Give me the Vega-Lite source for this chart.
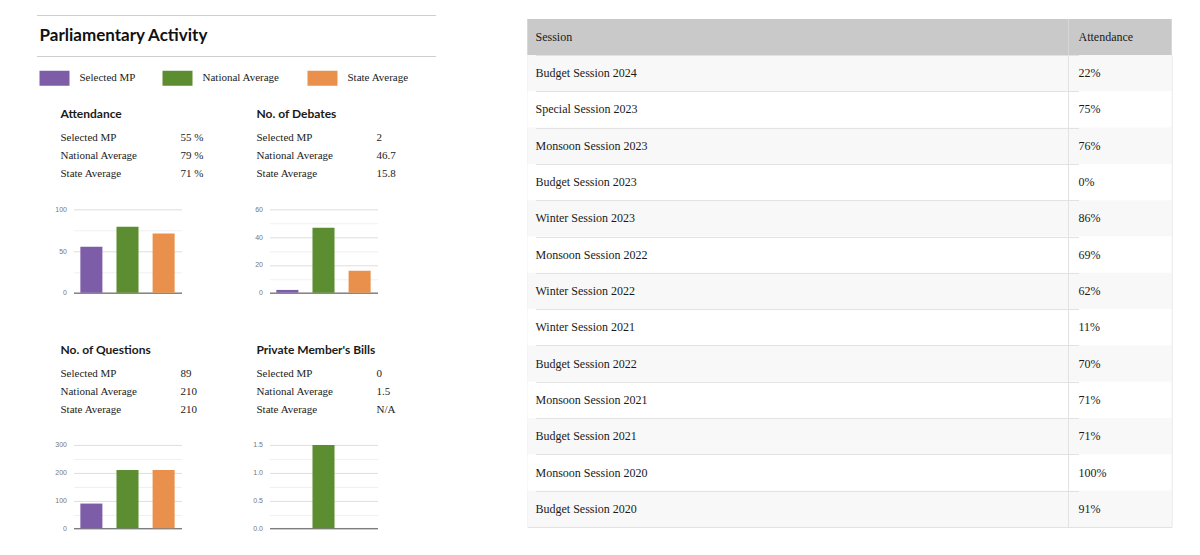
{
  "$schema": "https://vega.github.io/schema/vega-lite/v6.json",
  "padding": {"left": 36.5, "top": 15, "right": 5, "bottom": 5},
  "spacing": 91,
  "config": {
    "view": {"stroke": null},
    "font": "Liberation Sans",
    "axis": {"labelFont": "Liberation Sans", "labelFontSize": 7, "labelColor": "#777777"}
  },
  "datasets": {
    "metrics": [
      {"metric": "Attendance", "group": "Selected MP", "value": 55, "display": "55 %"},
      {"metric": "Attendance", "group": "National Average", "value": 79, "display": "79 %"},
      {"metric": "Attendance", "group": "State Average", "value": 71, "display": "71 %"},
      {"metric": "Debates", "group": "Selected MP", "value": 2, "display": "2"},
      {"metric": "Debates", "group": "National Average", "value": 46.7, "display": "46.7"},
      {"metric": "Debates", "group": "State Average", "value": 15.8, "display": "15.8"},
      {"metric": "Questions", "group": "Selected MP", "value": 89, "display": "89"},
      {"metric": "Questions", "group": "National Average", "value": 210, "display": "210"},
      {"metric": "Questions", "group": "State Average", "value": 210, "display": "210"},
      {"metric": "Bills", "group": "Selected MP", "value": 0, "display": "0"},
      {"metric": "Bills", "group": "National Average", "value": 1.5, "display": "1.5"},
      {"metric": "Bills", "group": "State Average", "value": null, "display": "N/A"}
    ],
    "sessions": [
      {"session": "Budget Session 2024", "attendance": 0.22},
      {"session": "Special Session 2023", "attendance": 0.75},
      {"session": "Monsoon Session 2023", "attendance": 0.76},
      {"session": "Budget Session 2023", "attendance": 0.0},
      {"session": "Winter Session 2023", "attendance": 0.86},
      {"session": "Monsoon Session 2022", "attendance": 0.69},
      {"session": "Winter Session 2022", "attendance": 0.62},
      {"session": "Winter Session 2021", "attendance": 0.11},
      {"session": "Budget Session 2022", "attendance": 0.70},
      {"session": "Monsoon Session 2021", "attendance": 0.71},
      {"session": "Budget Session 2021", "attendance": 0.71},
      {"session": "Monsoon Session 2020", "attendance": 1.0},
      {"session": "Budget Session 2020", "attendance": 0.91}
    ]
  },
  "hconcat": [
    {
      "vconcat": [
        {
          "width": 399,
          "height": 41,
          "title": {"text": "Parliamentary Activity", "anchor": "start", "frame": "group", "orient": "top", "offset": -38, "baseline": "middle", "dx": 3, "font": "Lato", "fontSize": 17, "fontWeight": "bold", "color": "#111111"},
          "data": {"name": "metrics"},
          "transform": [{"filter": {"field": "metric", "equal": "Attendance"}}],
          "mark": {"type": "square", "opacity": 0},
          "encoding": {
            "y": {"datum": 0.5, "type": "quantitative", "scale": {"domain": [0, 1], "nice": false},
              "axis": {"values": [0, 1], "grid": true, "gridColor": "#cfcfcf", "gridWidth": 1, "labels": false, "ticks": false, "domain": false, "title": null}},
            "color": {
              "field": "group", "type": "nominal",
              "scale": {"domain": ["Selected MP", "National Average", "State Average"], "range": ["#7d5da8", "#5c8d30", "#e9904d"]},
              "legend": {"orient": "none", "legendX": 3, "legendY": 48, "direction": "horizontal", "title": null,
                "symbolType": "M-1,-0.5H1V0.5H-1Z", "symbolSize": 900, "symbolStrokeWidth": 0, "symbolOpacity": 1,
                "labelFont": "Liberation Serif", "labelFontSize": 11, "labelColor": "#222222", "labelOffset": 10, "columnPadding": 27}
            }
          }
        },
        {
          "columns": 2,
          "bounds": "flush",
          "spacing": {"row": 26.3, "column": 0},
          "concat": [
            {
              "width": 196, "height": 99,
              "title": {"text": "Attendance", "anchor": "start", "frame": "group", "offset": -42, "baseline": "middle", "dx": 24, "font": "Lato", "fontSize": 12, "fontWeight": "bold", "color": "#1a1a1a"},
              "data": {"name": "metrics"},
              "transform": [{"filter": {"field": "metric", "equal": "Attendance"}}],
              "layer": [
                {"mark": {"type": "text", "align": "left", "baseline": "middle", "font": "Liberation Serif", "fontSize": 11, "color": "#222222"},
                 "encoding": {"x": {"datum": "name", "type": "nominal", "scale": {"type": "point", "domain": ["name", "value"], "range": [24, 144], "padding": 0}, "axis": null},
                   "y": {"field": "group", "type": "nominal", "scale": {"type": "band", "domain": ["Selected MP", "National Average", "State Average"], "range": [45, 99], "paddingInner": 0, "paddingOuter": 0}, "axis": null},
                   "text": {"field": "group"}}},
                {"mark": {"type": "text", "align": "left", "baseline": "middle", "font": "Liberation Serif", "fontSize": 11, "color": "#222222"},
                 "encoding": {"x": {"datum": "value", "type": "nominal", "scale": {"type": "point", "domain": ["name", "value"], "range": [24, 144], "padding": 0}, "axis": null},
                   "y": {"field": "group", "type": "nominal", "scale": {"type": "band", "domain": ["Selected MP", "National Average", "State Average"], "range": [45, 99], "paddingInner": 0, "paddingOuter": 0}, "axis": null},
                   "text": {"field": "display"}}}
              ]
            },
            {
              "width": 196, "height": 99,
              "title": {"text": "No. of Debates", "anchor": "start", "frame": "group", "offset": -42, "baseline": "middle", "dx": 24, "font": "Lato", "fontSize": 12, "fontWeight": "bold", "color": "#1a1a1a"},
              "data": {"name": "metrics"},
              "transform": [{"filter": {"field": "metric", "equal": "Debates"}}],
              "layer": [
                {"mark": {"type": "text", "align": "left", "baseline": "middle", "font": "Liberation Serif", "fontSize": 11, "color": "#222222"},
                 "encoding": {"x": {"datum": "name", "type": "nominal", "scale": {"type": "point", "domain": ["name", "value"], "range": [24, 144], "padding": 0}, "axis": null},
                   "y": {"field": "group", "type": "nominal", "scale": {"type": "band", "domain": ["Selected MP", "National Average", "State Average"], "range": [45, 99], "paddingInner": 0, "paddingOuter": 0}, "axis": null},
                   "text": {"field": "group"}}},
                {"mark": {"type": "text", "align": "left", "baseline": "middle", "font": "Liberation Serif", "fontSize": 11, "color": "#222222"},
                 "encoding": {"x": {"datum": "value", "type": "nominal", "scale": {"type": "point", "domain": ["name", "value"], "range": [24, 144], "padding": 0}, "axis": null},
                   "y": {"field": "group", "type": "nominal", "scale": {"type": "band", "domain": ["Selected MP", "National Average", "State Average"], "range": [45, 99], "paddingInner": 0, "paddingOuter": 0}, "axis": null},
                   "text": {"field": "display"}}}
              ]
            },
            {
              "width": 196, "height": 83.4,
              "data": {"name": "metrics"},
              "transform": [{"filter": {"field": "metric", "equal": "Attendance"}}],
              "mark": {"type": "bar"},
              "encoding": {
                "x": {"field": "group", "type": "nominal", "scale": {"domain": ["Selected MP", "National Average", "State Average"], "range": [37, 145], "paddingInner": 0.39, "paddingOuter": 0.19},
                  "axis": {"title": null, "labels": false, "ticks": false, "domain": true, "domainColor": "#555555", "grid": false}},
                "y": {"field": "value", "type": "quantitative", "scale": {"domain": [0, 100], "nice": false},
                  "axis": {"title": null, "values": [0, 25, 50, 75, 100], "offset": -37, "domain": false, "ticks": false, "labelPadding": 7, "grid": true,
                    "gridColor": {"condition": {"test": "datum.value % 50 === 0", "value": "#dedede"}, "value": "#f0f0f0"},
                    "labelExpr": "datum.value % 50 === 0 ? datum.label : ''"}},
                "color": {"field": "group", "type": "nominal", "scale": {"domain": ["Selected MP", "National Average", "State Average"], "range": ["#7d5da8", "#5c8d30", "#e9904d"]}, "legend": null}
              }
            },
            {
              "width": 196, "height": 83.4,
              "data": {"name": "metrics"},
              "transform": [{"filter": {"field": "metric", "equal": "Debates"}}],
              "mark": {"type": "bar"},
              "encoding": {
                "x": {"field": "group", "type": "nominal", "scale": {"domain": ["Selected MP", "National Average", "State Average"], "range": [37, 145], "paddingInner": 0.39, "paddingOuter": 0.19},
                  "axis": {"title": null, "labels": false, "ticks": false, "domain": true, "domainColor": "#555555", "grid": false}},
                "y": {"field": "value", "type": "quantitative", "scale": {"domain": [0, 60], "nice": false},
                  "axis": {"title": null, "values": [0, 10, 20, 30, 40, 50, 60], "offset": -37, "domain": false, "ticks": false, "labelPadding": 7, "grid": true,
                    "gridColor": {"condition": {"test": "datum.value % 20 === 0", "value": "#dedede"}, "value": "#f0f0f0"},
                    "labelExpr": "datum.value % 20 === 0 ? datum.label : ''"}},
                "color": {"field": "group", "type": "nominal", "scale": {"domain": ["Selected MP", "National Average", "State Average"], "range": ["#7d5da8", "#5c8d30", "#e9904d"]}, "legend": null}
              }
            },
            {
              "width": 196, "height": 99,
              "title": {"text": "No. of Questions", "anchor": "start", "frame": "group", "offset": -42, "baseline": "middle", "dx": 24, "font": "Lato", "fontSize": 12, "fontWeight": "bold", "color": "#1a1a1a"},
              "data": {"name": "metrics"},
              "transform": [{"filter": {"field": "metric", "equal": "Questions"}}],
              "layer": [
                {"mark": {"type": "text", "align": "left", "baseline": "middle", "font": "Liberation Serif", "fontSize": 11, "color": "#222222"},
                 "encoding": {"x": {"datum": "name", "type": "nominal", "scale": {"type": "point", "domain": ["name", "value"], "range": [24, 144], "padding": 0}, "axis": null},
                   "y": {"field": "group", "type": "nominal", "scale": {"type": "band", "domain": ["Selected MP", "National Average", "State Average"], "range": [45, 99], "paddingInner": 0, "paddingOuter": 0}, "axis": null},
                   "text": {"field": "group"}}},
                {"mark": {"type": "text", "align": "left", "baseline": "middle", "font": "Liberation Serif", "fontSize": 11, "color": "#222222"},
                 "encoding": {"x": {"datum": "value", "type": "nominal", "scale": {"type": "point", "domain": ["name", "value"], "range": [24, 144], "padding": 0}, "axis": null},
                   "y": {"field": "group", "type": "nominal", "scale": {"type": "band", "domain": ["Selected MP", "National Average", "State Average"], "range": [45, 99], "paddingInner": 0, "paddingOuter": 0}, "axis": null},
                   "text": {"field": "display"}}}
              ]
            },
            {
              "width": 196, "height": 99,
              "title": {"text": "Private Member's Bills", "anchor": "start", "frame": "group", "offset": -42, "baseline": "middle", "dx": 24, "font": "Lato", "fontSize": 12, "fontWeight": "bold", "color": "#1a1a1a"},
              "data": {"name": "metrics"},
              "transform": [{"filter": {"field": "metric", "equal": "Bills"}}],
              "layer": [
                {"mark": {"type": "text", "align": "left", "baseline": "middle", "font": "Liberation Serif", "fontSize": 11, "color": "#222222"},
                 "encoding": {"x": {"datum": "name", "type": "nominal", "scale": {"type": "point", "domain": ["name", "value"], "range": [24, 144], "padding": 0}, "axis": null},
                   "y": {"field": "group", "type": "nominal", "scale": {"type": "band", "domain": ["Selected MP", "National Average", "State Average"], "range": [45, 99], "paddingInner": 0, "paddingOuter": 0}, "axis": null},
                   "text": {"field": "group"}}},
                {"mark": {"type": "text", "align": "left", "baseline": "middle", "font": "Liberation Serif", "fontSize": 11, "color": "#222222"},
                 "encoding": {"x": {"datum": "value", "type": "nominal", "scale": {"type": "point", "domain": ["name", "value"], "range": [24, 144], "padding": 0}, "axis": null},
                   "y": {"field": "group", "type": "nominal", "scale": {"type": "band", "domain": ["Selected MP", "National Average", "State Average"], "range": [45, 99], "paddingInner": 0, "paddingOuter": 0}, "axis": null},
                   "text": {"field": "display"}}}
              ]
            },
            {
              "width": 196, "height": 83.4,
              "data": {"name": "metrics"},
              "transform": [{"filter": {"field": "metric", "equal": "Questions"}}],
              "mark": {"type": "bar"},
              "encoding": {
                "x": {"field": "group", "type": "nominal", "scale": {"domain": ["Selected MP", "National Average", "State Average"], "range": [37, 145], "paddingInner": 0.39, "paddingOuter": 0.19},
                  "axis": {"title": null, "labels": false, "ticks": false, "domain": true, "domainColor": "#555555", "grid": false}},
                "y": {"field": "value", "type": "quantitative", "scale": {"domain": [0, 300], "nice": false},
                  "axis": {"title": null, "values": [0, 50, 100, 150, 200, 250, 300], "offset": -37, "domain": false, "ticks": false, "labelPadding": 7, "grid": true,
                    "gridColor": {"condition": {"test": "datum.value % 100 === 0", "value": "#dedede"}, "value": "#f0f0f0"},
                    "labelExpr": "datum.value % 100 === 0 ? datum.label : ''"}},
                "color": {"field": "group", "type": "nominal", "scale": {"domain": ["Selected MP", "National Average", "State Average"], "range": ["#7d5da8", "#5c8d30", "#e9904d"]}, "legend": null}
              }
            },
            {
              "width": 196, "height": 83.4,
              "data": {"name": "metrics"},
              "transform": [{"filter": {"field": "metric", "equal": "Bills"}}],
              "mark": {"type": "bar"},
              "encoding": {
                "x": {"field": "group", "type": "nominal", "scale": {"domain": ["Selected MP", "National Average", "State Average"], "range": [37, 145], "paddingInner": 0.39, "paddingOuter": 0.19},
                  "axis": {"title": null, "labels": false, "ticks": false, "domain": true, "domainColor": "#555555", "grid": false}},
                "y": {"field": "value", "type": "quantitative", "scale": {"domain": [0, 1.5], "nice": false},
                  "axis": {"title": null, "values": [0, 0.25, 0.5, 0.75, 1, 1.25, 1.5], "format": ".1f", "offset": -37, "domain": false, "ticks": false, "labelPadding": 7, "grid": true,
                    "gridColor": {"condition": {"test": "datum.value % 0.5 === 0", "value": "#dedede"}, "value": "#f0f0f0"},
                    "labelExpr": "datum.value % 0.5 === 0 ? datum.label : ''"}},
                "color": {"field": "group", "type": "nominal", "scale": {"domain": ["Selected MP", "National Average", "State Average"], "range": ["#7d5da8", "#5c8d30", "#e9904d"]}, "legend": null}
              }
            }
          ]
        }
      ],
      "bounds": "flush",
      "spacing": 28,
      "resolve": {"scale": {"color": "independent"}, "legend": {"color": "independent"}}
    },
    {
      "vconcat": [
        {
          "width": 644, "height": 40,
          "data": {"values": [{"column": "Session"}, {"column": "Attendance"}]},
          "layer": [
            {"mark": {"type": "rect", "color": "#c9c9c9"},
             "encoding": {"y": {"datum": "header", "type": "nominal", "scale": {"type": "band", "domain": ["header"], "range": [4, 40], "paddingInner": 0, "paddingOuter": 0}, "axis": null}}},
            {"mark": {"type": "rect", "color": "#d6d6d6", "width": 1, "xOffset": -10},
             "encoding": {"x": {"datum": "Attendance", "type": "nominal", "scale": {"type": "point", "domain": ["Session", "Attendance"], "range": [8, 551], "padding": 0}, "axis": null},
               "y": {"datum": "header", "type": "nominal", "scale": {"type": "band", "domain": ["header"], "range": [4, 40], "paddingInner": 0, "paddingOuter": 0}, "axis": null}}},
            {"mark": {"type": "text", "align": "left", "baseline": "middle", "font": "Liberation Serif", "fontSize": 12, "color": "#1a1a1a"},
             "encoding": {"x": {"field": "column", "type": "nominal", "scale": {"type": "point", "domain": ["Session", "Attendance"], "range": [8, 551], "padding": 0}, "axis": null},
               "y": {"datum": "header", "type": "nominal", "scale": {"type": "band", "domain": ["header"], "range": [4, 40], "paddingInner": 0, "paddingOuter": 0}, "axis": null},
               "text": {"field": "column"}}}
          ]
        },
        {
          "width": 644, "height": 472,
          "view": {"stroke": "#e2e2e2"},
          "data": {"name": "sessions"},
          "transform": [{"window": [{"op": "row_number", "as": "row"}]}],
          "layer": [
            {"mark": {"type": "rect"},
             "encoding": {
               "y": {"field": "session", "type": "nominal", "sort": null, "scale": {"type": "band", "paddingInner": 0, "paddingOuter": 0},
                 "axis": {"title": null, "labels": false, "ticks": false, "domain": false, "grid": true, "gridColor": "#e2e2e2", "tickBand": "extent", "zindex": 1}},
               "fill": {"condition": {"test": "datum.row % 2 === 1", "value": "#f8f8f8"}, "value": "#ffffff"}}},
            {"mark": {"type": "rule", "color": "#e2e2e2", "xOffset": -10},
             "encoding": {"x": {"datum": "Attendance", "type": "nominal", "scale": {"type": "point", "domain": ["Session", "Attendance"], "range": [8, 551], "padding": 0}, "axis": null}}},
            {"mark": {"type": "text", "align": "left", "baseline": "middle", "font": "Liberation Serif", "fontSize": 12, "color": "#1a1a1a"},
             "encoding": {
               "x": {"datum": "Session", "type": "nominal", "scale": {"type": "point", "domain": ["Session", "Attendance"], "range": [8, 551], "padding": 0}, "axis": null},
               "y": {"field": "session", "type": "nominal", "sort": null, "scale": {"type": "band", "paddingInner": 0, "paddingOuter": 0},
                 "axis": {"title": null, "labels": false, "ticks": false, "domain": false, "grid": true, "gridColor": "#e2e2e2", "tickBand": "extent", "zindex": 1}},
               "text": {"field": "session"}}},
            {"mark": {"type": "text", "align": "left", "baseline": "middle", "font": "Liberation Serif", "fontSize": 12, "color": "#1a1a1a"},
             "encoding": {
               "x": {"datum": "Attendance", "type": "nominal", "scale": {"type": "point", "domain": ["Session", "Attendance"], "range": [8, 551], "padding": 0}, "axis": null},
               "y": {"field": "session", "type": "nominal", "sort": null, "scale": {"type": "band", "paddingInner": 0, "paddingOuter": 0},
                 "axis": {"title": null, "labels": false, "ticks": false, "domain": false, "grid": true, "gridColor": "#e2e2e2", "tickBand": "extent", "zindex": 1}},
               "text": {"field": "attendance", "type": "quantitative", "format": ".0%"}}}
          ]
        }
      ],
      "bounds": "flush",
      "spacing": 0
    }
  ]
}
